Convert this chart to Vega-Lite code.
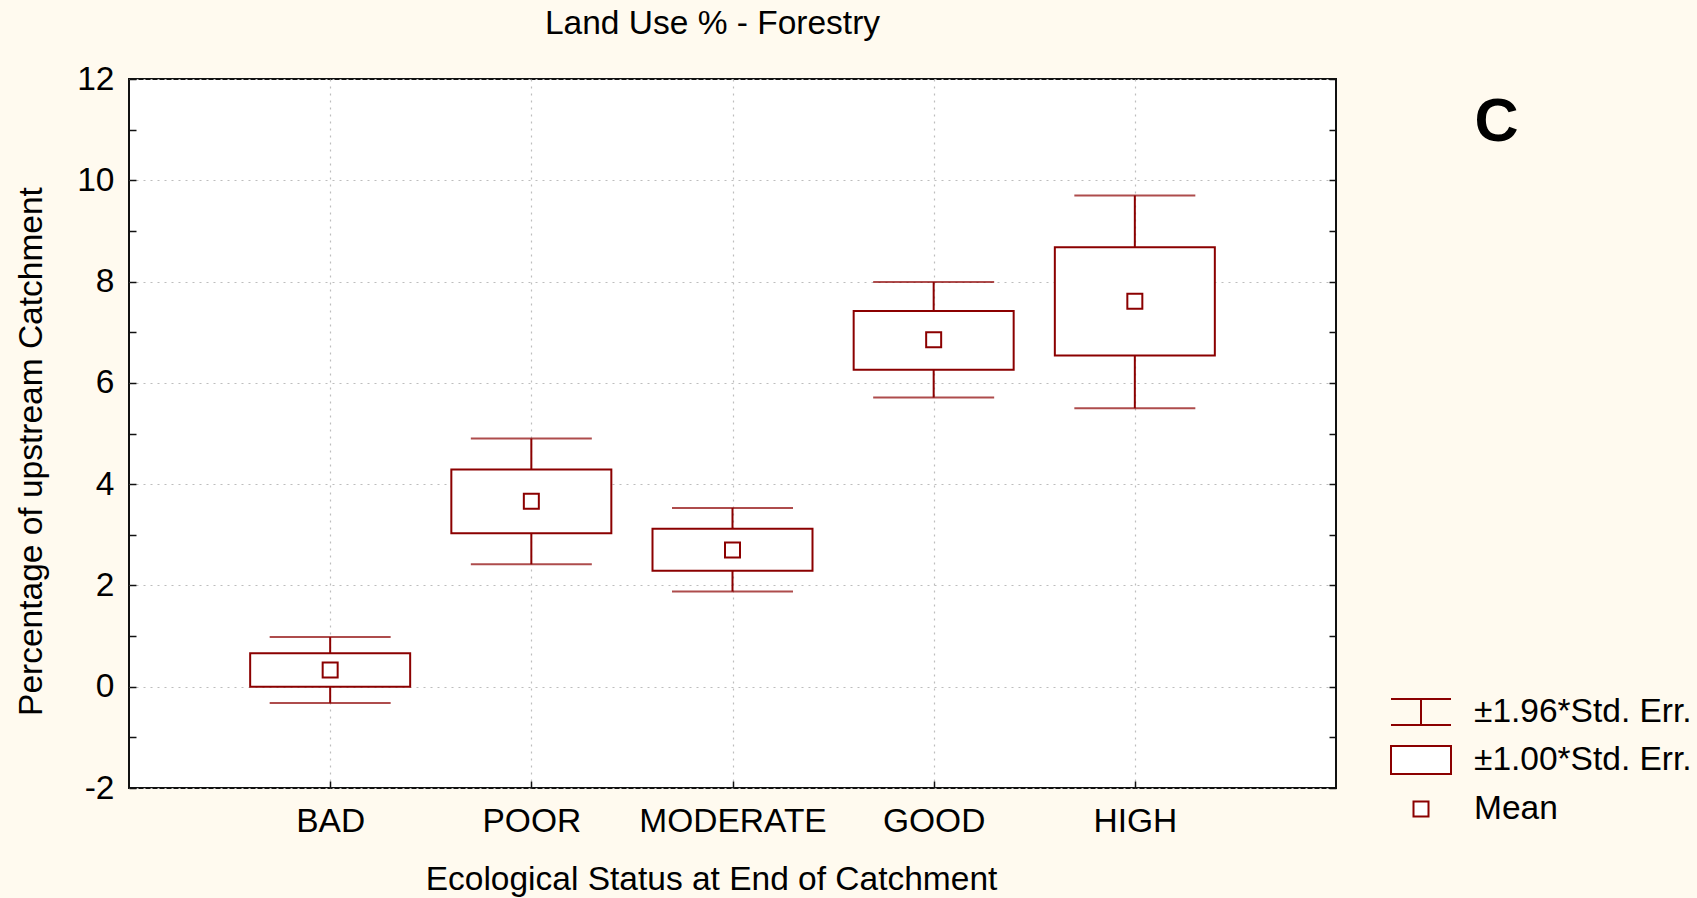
{
  "$schema": "https://vega.github.io/schema/vega-lite/v6.json",
  "autosize": {"type": "none"},
  "padding": {"left": 129, "top": 79, "right": 361, "bottom": 110},
  "width": 1207,
  "height": 709,
  "background": "#fffaef",
  "config": {
    "font": "Liberation Sans",
    "view": {"stroke": "#111111", "strokeWidth": 2, "fill": "white"},
    "axis": {"labelFont": "Liberation Sans", "titleFont": "Liberation Sans", "labelColor": "black", "titleColor": "black", "tickColor": "#111111"}
  },
  "title": {"text": "Land Use % - Forestry", "fontSize": 33.5, "fontWeight": "normal", "frame": "group", "anchor": "middle", "dx": -20, "dy": 6, "offset": 1, "baseline": "alphabetic", "color": "black", "font": "Liberation Sans"},
  "data": {"values": [
    {"status": "BAD", "mean": 0.33, "se_lo": 0.0, "se_hi": 0.66, "ci_lo": -0.32, "ci_hi": 0.98},
    {"status": "POOR", "mean": 3.66, "se_lo": 3.03, "se_hi": 4.29, "ci_lo": 2.42, "ci_hi": 4.90},
    {"status": "MODERATE", "mean": 2.70, "se_lo": 2.29, "se_hi": 3.12, "ci_lo": 1.88, "ci_hi": 3.53},
    {"status": "GOOD", "mean": 6.85, "se_lo": 6.26, "se_hi": 7.42, "ci_lo": 5.71, "ci_hi": 7.99},
    {"status": "HIGH", "mean": 7.61, "se_lo": 6.54, "se_hi": 8.68, "ci_lo": 5.50, "ci_hi": 9.70}
  ]},
  "resolve": {"scale": {"y": "shared"}, "axis": {"y": "independent"}},
  "layer": [
    {
      "mark": {"type": "rule", "color": "#8b0000", "strokeWidth": 2},
      "encoding": {
        "x": {"field": "status", "type": "nominal", "sort": ["BAD", "POOR", "MODERATE", "GOOD", "HIGH"],
          "scale": {"type": "point", "padding": 1},
          "axis": {"title": "Ecological Status at End of Catchment", "titleFontSize": 33.5, "titleFontWeight": "normal", "titleX": 582, "titleY": 101, "titleBaseline": "alphabetic", "titleAlign": "center",
            "labelAngle": 0, "labelFontSize": 33.5, "labelPadding": 24, "labelLimit": 0, "labelOverlap": false, "tickSize": -7, "tickWidth": 1.5, "domain": false,
            "grid": true, "gridColor": "#bdbdbd", "gridDash": [2, 5], "gridWidth": 1.2}},
        "y": {"field": "ci_lo", "type": "quantitative", "scale": {"domain": [-2, 12], "nice": false, "zero": false},
          "axis": {"orient": "left", "title": "Percentage of upstream Catchment", "titleFontSize": 33.5, "titleFontWeight": "normal", "titleX": -88, "titleY": 372, "titleAngle": -90, "titleBaseline": "alphabetic", "titleAlign": "center",
            "values": [-2, -1, 0, 1, 2, 3, 4, 5, 6, 7, 8, 9, 10, 11, 12],
            "labelExpr": "datum.value % 2 == 0 ? '' + datum.value : ''", "labelOverlap": false, "labelFontSize": 33.5, "labelPadding": 22, "tickSize": -7, "tickWidth": 1.5, "domain": false,
            "grid": true, "gridColor": "#bdbdbd", "gridDash": [2, 5], "gridWidth": 1.2,
            "gridOpacity": {"condition": {"test": "datum.value % 2 == 0", "value": 1}, "value": 0}}},
        "y2": {"field": "ci_hi"}
      }
    },
    {
      "mark": {"type": "bar", "fill": "white", "stroke": "#8b0000", "strokeWidth": 2, "size": 160},
      "encoding": {
        "x": {"field": "status", "type": "nominal", "sort": ["BAD", "POOR", "MODERATE", "GOOD", "HIGH"]},
        "y": {"field": "se_lo", "type": "quantitative", "axis": null},
        "y2": {"field": "se_hi"}
      }
    },
    {
      "mark": {"type": "tick", "color": "#8b0000", "thickness": 2, "size": 121, "orient": "horizontal"},
      "encoding": {
        "x": {"field": "status", "type": "nominal", "sort": ["BAD", "POOR", "MODERATE", "GOOD", "HIGH"]},
        "y": {"field": "ci_lo", "type": "quantitative",
          "axis": {"orient": "right", "values": [-2, -1, 0, 1, 2, 3, 4, 5, 6, 7, 8, 9, 10, 11, 12], "labels": false, "tickSize": -7, "tickWidth": 1.5, "domain": false, "grid": false,
            "title": "C", "titleFontSize": 61, "titleFontWeight": "bold", "titleAngle": 0, "titleX": 160, "titleY": 61, "titleBaseline": "alphabetic", "titleAlign": "center"}}
      }
    },
    {
      "mark": {"type": "tick", "color": "#8b0000", "thickness": 2, "size": 121, "orient": "horizontal"},
      "encoding": {
        "x": {"field": "status", "type": "nominal", "sort": ["BAD", "POOR", "MODERATE", "GOOD", "HIGH"]},
        "y": {"field": "ci_hi", "type": "quantitative", "axis": null}
      }
    },
    {
      "mark": {"type": "point", "filled": false, "fill": "white", "stroke": "#8b0000", "strokeWidth": 2, "size": 2304, "opacity": 1},
      "encoding": {
        "x": {"field": "status", "type": "nominal", "sort": ["BAD", "POOR", "MODERATE", "GOOD", "HIGH"]},
        "y": {"field": "mean", "type": "quantitative", "axis": null},
        "shape": {"datum": "Mean",
          "scale": {"domain": ["±1.96*Std. Err.", "±1.00*Std. Err.", "Mean"],
            "range": ["M-1.25,-0.54H1.25M0,-0.54V0.54M-1.25,0.54H1.25", "M-1.25,-0.58H1.25V0.58H-1.25Z", "M-0.3125,-0.3125H0.3125V0.3125H-0.3125Z"]},
          "legend": {"orient": "none", "legendX": 1267, "legendY": 608, "title": null, "padding": 0, "symbolSize": 2304, "symbolStrokeWidth": 2,
            "labelFontSize": 33.5, "labelFont": "Liberation Sans", "labelColor": "black", "labelOffset": 28, "labelLimit": 0, "rowPadding": 6,
            "encode": {"symbols": {"enter": {"stroke": {"value": "#8b0000"}, "strokeWidth": {"value": 2}, "fill": {"value": "white"}}, "update": {"stroke": {"value": "#8b0000"}, "strokeWidth": {"value": 2}, "fill": {"value": "white"}, "opacity": {"value": 1}}}}}}
      }
    }
  ]
}
